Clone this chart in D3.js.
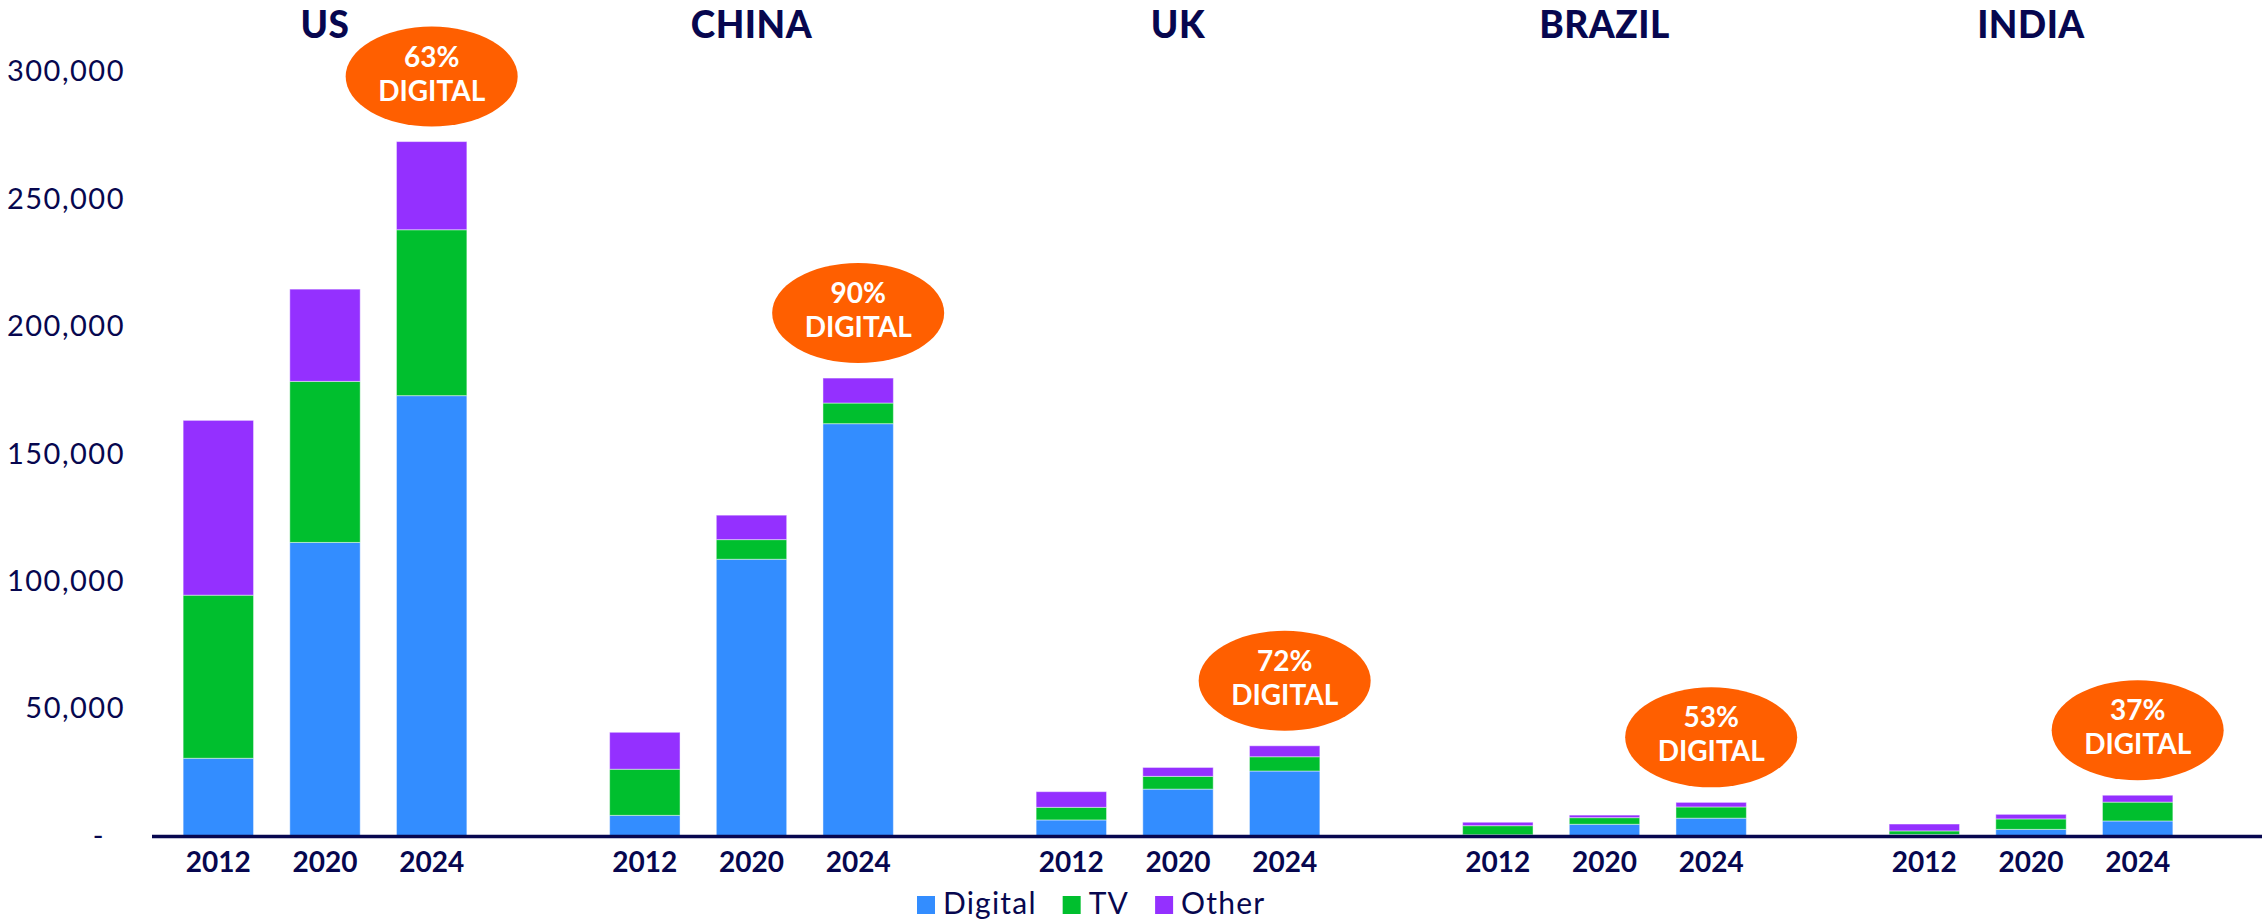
<!DOCTYPE html>
<html>
<head>
<meta charset="utf-8">
<script src="https://cdn.jsdelivr.net/npm/d3@7"></script>
<style>
  body { margin: 0; background: #fff; }
  text { font-family: Lato, "Open Sans", sans-serif; }
</style>
</head>
<body>
<div class="graph"></div>
<script>

// data
var countries = ["US", "CHINA", "UK", "BRAZIL", "INDIA"];
var years = ["2012", "2020", "2024"];
var series = ["Digital", "TV", "Other"];

// values per country, in year order (2012, 2020, 2024)
var digital = [
  [30500, 115200, 172800],
  [8100, 108600, 161800],
  [6300, 18400, 25500],
  [500, 4600, 7000],
  [600, 2600, 5900]
];
var tv = [
  [64000, 63200, 65100],
  [18100, 7700, 8100],
  [4950, 5000, 5600],
  [3550, 2600, 4400],
  [1400, 4100, 7400]
];
var other = [
  [68600, 36200, 34600],
  [14500, 9600, 9800],
  [6150, 3500, 4300],
  [1350, 1000, 1800],
  [2700, 1800, 2700]
];

// share of digital in 2024, shown in the bubbles
var digitalShare = ["63%", "90%", "72%", "53%", "37%"];

var yTicks = [0, 50000, 100000, 150000, 200000, 250000, 300000];

var colors = {Digital: "#338dff", TV: "#00bf2e", Other: "#9430ff"};
var navy = "#07074f";
var orange = "#ff5f00";

var width = 2262,
    height = 922;

var svg = d3.select("div.graph").append("svg")
    .attr("width", width)
    .attr("height", height);

// scales
var x0 = d3.scaleBand()
    .domain(countries)
    .range([165, 165 + 5 * 426.5])
    .padding(0);

var x1 = d3.scaleBand()
    .domain(years)
    .range([0, 320])
    .paddingInner(0.34)
    .paddingOuter(0.17);

var y = d3.scaleLinear()
    .domain([0, 300000])
    .range([836, 71.5]);

// build rows for the stack
var rows = [];
countries.forEach(function(c, i) {
  years.forEach(function(yr, j) {
    rows.push({country: c, year: yr, Digital: digital[i][j], TV: tv[i][j], Other: other[i][j]});
  });
});

var stack = d3.stack().keys(series);
var layers = stack(rows);

// bars
svg.append("g")
  .selectAll("g")
  .data(layers)
  .enter().append("g")
    .attr("fill", function(d) { return colors[d.key]; })
  .selectAll("rect")
  .data(function(d) { return d; })
  .enter().append("rect")
    .attr("x", function(d) { return x0(d.data.country) + x1(d.data.year); })
    .attr("y", function(d) { return y(d[1]); })
    .attr("width", x1.bandwidth())
    .attr("height", function(d) { return y(d[0]) - y(d[1]); })
    .attr("stroke", "#ffffff")
    .attr("stroke-opacity", 0.45)
    .attr("stroke-width", 1);

// y axis labels only, no line
var yAxis = d3.axisLeft(y)
    .tickValues(yTicks)
    .tickSize(0)
    .tickPadding(0)
    .tickFormat(function(d) { return d === 0 ? "-" : d3.format(",")(d); });

var yg = svg.append("g")
    .attr("transform", "translate(125,0)")
    .call(yAxis);
yg.select(".domain").remove();
yg.selectAll("text")
    .attr("fill", navy)
    .attr("font-size", 29)
    .attr("letter-spacing", "1.5px")
    .attr("font-family", "Lato, sans-serif")
    .attr("dx", function(d) { return d === 0 ? -20 : 0; });

// baseline
svg.append("line")
    .attr("x1", 152)
    .attr("x2", width)
    .attr("y1", y(0) + 0.5)
    .attr("y2", y(0) + 0.5)
    .attr("stroke", navy)
    .attr("stroke-width", 3.5);

// year labels under each bar
var yearLabels = svg.append("g");
rows.forEach(function(r) {
  yearLabels.append("text")
      .attr("x", x0(r.country) + x1(r.year) + x1.bandwidth() / 2)
      .attr("y", 872)
      .attr("text-anchor", "middle")
      .attr("font-size", 28)
      .attr("font-weight", 700)
      .attr("fill", navy)
      .text(r.year);
});

// country titles, centred on the middle bar
svg.append("g")
  .selectAll("text")
  .data(countries)
  .enter().append("text")
    .attr("x", function(d) { return x0(d) + x1("2020") + x1.bandwidth() / 2; })
    .attr("y", 38)
    .attr("text-anchor", "middle")
    .attr("font-size", 37)
    .attr("font-weight", 900)
    .attr("letter-spacing", "0.5px")
    .attr("fill", navy)
    .text(function(d) { return d; });

// bubbles above the 2024 bar
var rx = 86, ry = 50;
var bubbles = svg.append("g")
  .selectAll("g")
  .data(countries)
  .enter().append("g")
    .attr("transform", function(d, i) {
      var cx = x0(d) + x1("2024") + x1.bandwidth() / 2;
      var top = y(digital[i][2] + tv[i][2] + other[i][2]);
      return "translate(" + cx + "," + (top - 15 - ry) + ")";
    });

bubbles.append("ellipse")
    .attr("rx", rx)
    .attr("ry", ry)
    .attr("fill", orange);

bubbles.append("text")
    .attr("y", -10)
    .attr("text-anchor", "middle")
    .attr("font-size", 28)
    .attr("font-weight", 700)
    .attr("fill", "#fff")
    .text(function(d, i) { return digitalShare[i]; });

bubbles.append("text")
    .attr("y", 24)
    .attr("text-anchor", "middle")
    .attr("font-size", 28)
    .attr("font-weight", 700)
    .attr("fill", "#fff")
    .text("DIGITAL");

// legend
var legend = svg.append("g").attr("transform", "translate(917,914)");
var lx = 0;
series.forEach(function(s) {
  legend.append("rect")
      .attr("x", lx)
      .attr("y", -18)
      .attr("width", 18)
      .attr("height", 18)
      .attr("fill", colors[s]);
  var t = legend.append("text")
      .attr("x", lx + 26)
      .attr("y", 0)
      .attr("font-size", 30)
      .attr("letter-spacing", "1.2px")
      .attr("fill", navy)
      .text(s);
  lx += 26 + t.node().getComputedTextLength() + 26;
});

</script>
</body>
</html>
